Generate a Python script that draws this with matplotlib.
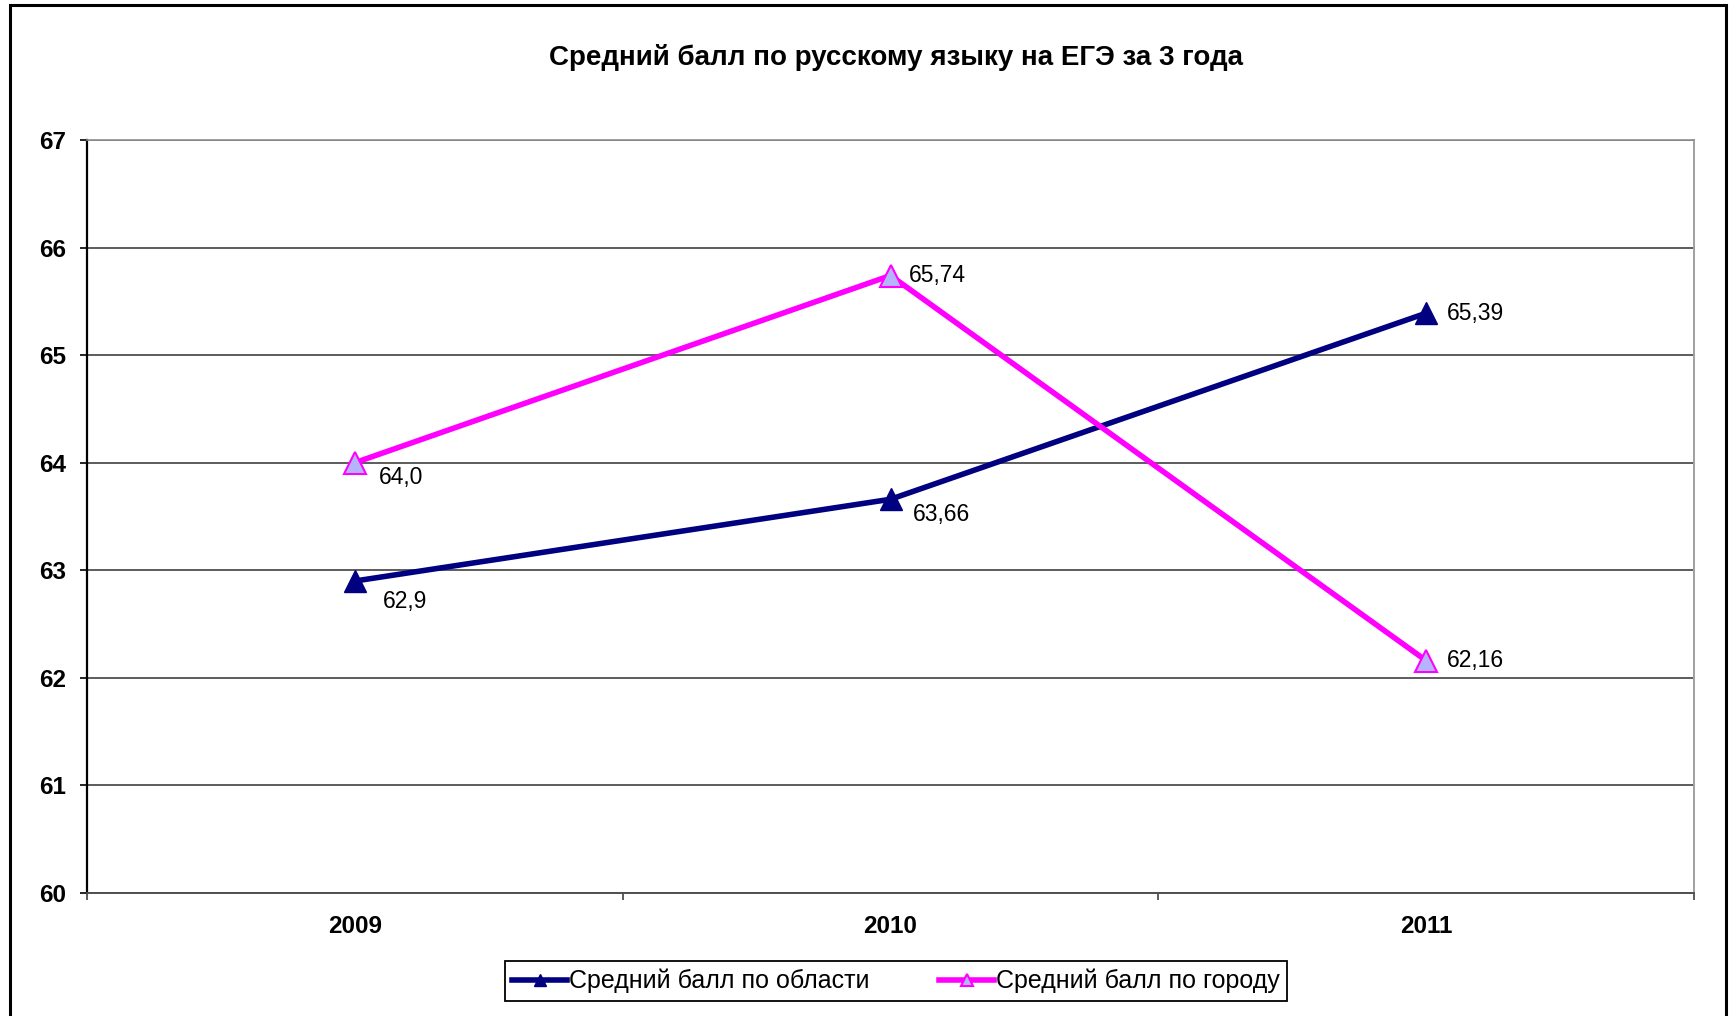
import matplotlib
matplotlib.use("Agg")
import matplotlib.pyplot as plt
from matplotlib.patches import Rectangle

years = ["2009", "2010", "2011"]
oblast = [62.9, 63.66, 65.39]
gorod = [64.0, 65.74, 62.16]
oblast_labels = ["62,9", "63,66", "65,39"]
gorod_labels = ["64,0", "65,74", "62,16"]

arial = ["Liberation Sans", "DejaVu Sans"]

fig = plt.figure(figsize=(17.31, 10.16), dpi=100)
ax = fig.add_axes([0.0503, 0.1211, 0.9283, 0.7411])

x = range(len(years))
l1, = ax.plot(x, oblast, color="#000080", lw=4, marker="^", ms=16,
              mfc="#000080", mec="#000080", label="Средний балл по области", zorder=3)
l2, = ax.plot(x, gorod, color="#FF00FF", lw=4, marker="^", ms=16,
              mfc="#B4B4FF", mec="#FF00FF", mew=1.5, label="Средний балл по городу", zorder=3)

# data labels
offs_obl = [(20, -15), (16, -11), (15, 0)]
offs_gor = [(17, -11), (13, 0), (15, 0)]
for i, (v, t) in enumerate(zip(oblast, oblast_labels)):
    ax.annotate(t, (i, v), xytext=offs_obl[i], textcoords="offset points",
                ha="left", va="center", fontsize=16.5, family=arial)
for i, (v, t) in enumerate(zip(gorod, gorod_labels)):
    ax.annotate(t, (i, v), xytext=offs_gor[i], textcoords="offset points",
                ha="left", va="center", fontsize=16.5, family=arial)

ax.set_xlim(-0.5, 2.5)
ax.set_ylim(60, 67)
ax.set_yticks(range(60, 68))
ax.set_yticklabels([str(v) for v in range(60, 68)], fontsize=17.5,
                   fontweight="heavy", family=arial)
ax.set_xticks(list(x))
ax.set_xticklabels(years, fontsize=17.5, fontweight="heavy", family=arial)
ax.tick_params(axis="x", length=0, pad=16)
ax.set_xticks([-0.5, 0.5, 1.5, 2.5], minor=True)
ax.tick_params(axis="x", which="minor", length=5, width=1.2, color="#404040")
ax.tick_params(axis="y", length=5, width=1.2, pad=10)

ax.grid(axis="y", color="#303030", lw=1.1)
ax.set_axisbelow(True)
ax.spines["left"].set_color("black")
ax.spines["left"].set_linewidth(1.6)
ax.spines["bottom"].set_color("#505050")
ax.spines["bottom"].set_linewidth(1.4)
ax.spines["top"].set_color("#909090")
ax.spines["right"].set_color("#a0a0a0")
ax.spines["top"].set_linewidth(1.2)
ax.spines["right"].set_linewidth(1.4)

fig.text(0.5176, 0.943, "Средний балл по русскому языку на ЕГЭ за 3 года",
         ha="center", va="center", fontsize=20, fontweight="heavy", family=arial)

leg = fig.legend(handles=[l1, l2], loc="center",
                 bbox_to_anchor=(0.2917, 0.0167, 0.4518, 0.0354), mode="expand",
                 ncol=2, fancybox=False, edgecolor="black", framealpha=1,
                 prop={"family": arial, "size": 18}, handlelength=2.2,
                 handletextpad=0.05, columnspacing=1.5, borderpad=0.3,
                 borderaxespad=0, markerscale=0.55)
leg.get_frame().set_linewidth(1.3)

fig.patches.append(Rectangle((10 / 1731, -0.02), 1716 / 1731, 1.02 - 5 / 1016,
                             transform=fig.transFigure, fill=False,
                             edgecolor="black", lw=2.2))

fig.savefig("out.png", dpi=100)
